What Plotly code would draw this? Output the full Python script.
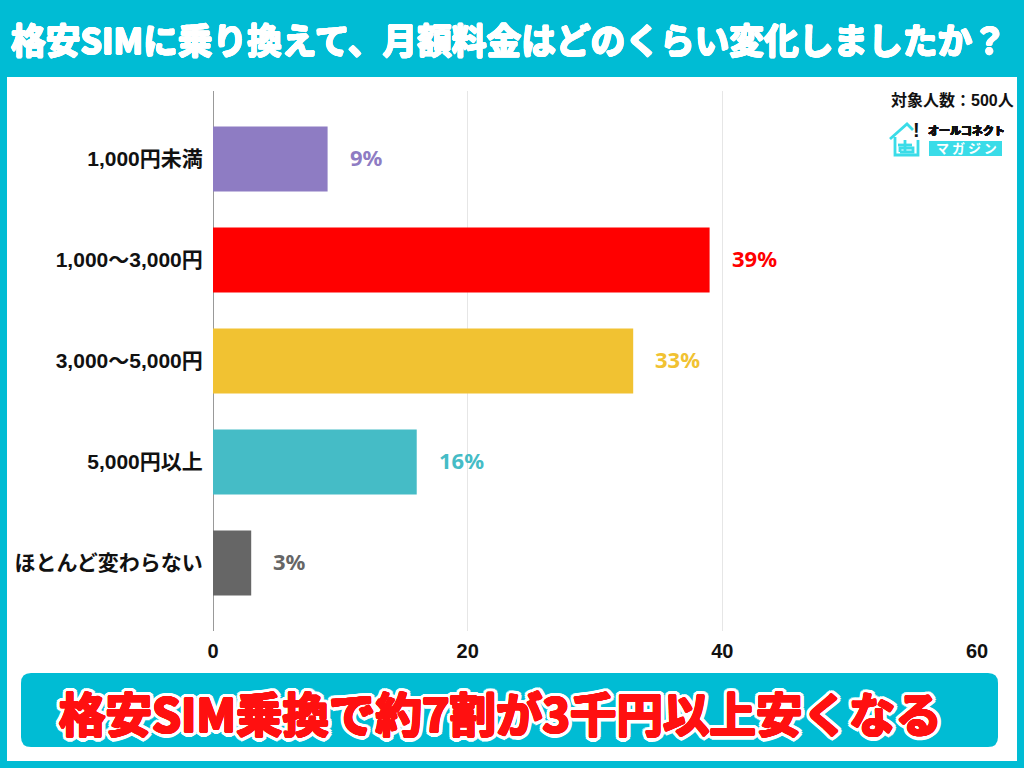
import math
import plotly.graph_objects as go

# Survey results: how the monthly bill changed after moving to a budget SIM
categories = ["1,000円未満", "1,000〜3,000円", "3,000〜5,000円", "5,000円以上", "ほとんど変わらない"]
percentages = [9, 39, 33, 16, 3]
bar_colors = ["#8E7CC3", "#FF0000", "#F1C232", "#45BCC6", "#666666"]
x_ticks = [0, 20, 40, 60]

title_text = "格安SIMに乗り換えて、月額料金はどのくらい変化しましたか？"
banner_text = "格安SIM乗換で約7割が3千円以上安くなる"
sample_text = "対象人数：500人"
brand_top = "オールコネクト"
brand_bottom = "マ ガ ジ ン"

TEAL = "#00BCD4"
LOGO = "#3ADCE8"
JP = "Noto Sans CJK JP"
MIXED = "Liberation Sans, Noto Sans CJK JP"
LEFT, RIGHT, TOP, BOTTOM = 213, 977, 91, 631


def px(x):
    return (x - LEFT) / (RIGHT - LEFT)


def py(y):
    return (BOTTOM - y) / (BOTTOM - TOP)


def outline(radius, color):
    steps = 16
    return ", ".join(
        f"{radius * math.cos(2 * math.pi * i / steps):.2f}px "
        f"{radius * math.sin(2 * math.pi * i / steps):.2f}px 0 {color}"
        for i in range(steps)
    )


def rect(x0, y0, x1, y1, color, layer="below"):
    return dict(type="rect", xref="paper", yref="paper", x0=px(x0), x1=px(x1),
                y0=py(y0), y1=py(y1), fillcolor=color, line_width=0, layer=layer)


def rounded(x0, y0, x1, y1, r, color):
    a, b, c, d = px(x0), px(x1), py(y1), py(y0)
    rx, ry = r / (RIGHT - LEFT), r / (BOTTOM - TOP)
    path = (f"M {a + rx} {c} L {b - rx} {c} Q {b} {c} {b} {c + ry} L {b} {d - ry} "
            f"Q {b} {d} {b - rx} {d} L {a + rx} {d} Q {a} {d} {a} {d - ry} "
            f"L {a} {c + ry} Q {a} {c} {a + rx} {c} Z")
    return dict(type="path", xref="paper", yref="paper", path=path,
                fillcolor=color, line_width=0, layer="below")


def polyline(points, color, width=2.8):
    path = "M " + " L ".join(f"{px(x)} {py(y)}" for x, y in points)
    return dict(type="path", xref="paper", yref="paper", path=path,
                line=dict(color=color, width=width))


def label(x, y, text, size, color, anchor="center", family=JP, **extra):
    return dict(xref="paper", yref="paper", x=px(x), y=py(y), text=text, showarrow=False,
                xanchor=anchor, yanchor="middle",
                font=dict(family=family, size=size, color=color, weight=700, **extra))


fig = go.Figure(go.Bar(
    x=percentages, y=categories, orientation="h",
    marker=dict(color=bar_colors, line_width=0), width=0.645,
    hoverinfo="skip",
))

annotations = [
    dict(x=v, y=c, xref="x", yref="y", text=f"{v}%", showarrow=False, xanchor="left",
         xshift=20, yshift=2, font=dict(family="Noto Sans", size=22, color=col, weight=700))
    for v, c, col in zip(percentages, categories, bar_colors)
]
annotations += [
    label(509, 39, title_text, 34.7, "#FFFFFF", shadow=outline(0.7, "#FFFFFF")),
    label(500, 711, banner_text, 46.5, "#FF1010",
          shadow=outline(1, "#FF1010") + ", " + outline(4.5, "#FFFFFF")),
    label(1016, 100, sample_text, 16, "#111111", anchor="right", family=MIXED),
    label(966, 130, brand_top, 11, "#111111", shadow=outline(0.4, "#111111")),
    label(966, 148, brand_bottom, 13, "#FFFFFF"),
    label(916, 130, "!", 20, "#111111", family="Liberation Sans"),
]

shapes = [
    rect(7, 77, 1017, 761, "#FFFFFF"),
    rounded(21, 673, 998, 747, 10, TEAL),
    rect(929, 141, 1002, 156, LOGO, layer="above"),
    # House outline of the brand mark
    polyline([(890, 139), (907, 124), (913, 130)], LOGO),
    polyline([(895, 137), (895, 155), (918, 155), (918, 140)], LOGO),
    polyline([(898, 145), (912, 145)], LOGO),
    polyline([(905, 140), (905, 152)], LOGO),
    polyline([(900, 152), (900, 148), (913, 148), (913, 152), (900, 152)], LOGO),
]

fig.update_layout(
    width=1024, height=768, autosize=False, showlegend=False,
    margin=dict(l=LEFT, r=1024 - RIGHT, t=TOP, b=768 - BOTTOM, pad=0),
    paper_bgcolor=TEAL, plot_bgcolor="rgba(0,0,0,0)",
    annotations=annotations, shapes=shapes,
    font=dict(family=JP, color="#111111"),
    xaxis=dict(range=[0, 60], tickvals=x_ticks, showgrid=True, gridcolor="#E6E6E6",
               gridwidth=1, zeroline=True, zerolinecolor="#999999", zerolinewidth=1,
               ticks="outside", ticklen=0, ticklabelstandoff=2,
               tickfont=dict(family="Liberation Sans", size=20, color="#111111", weight=700)),
    yaxis=dict(type="category", categoryorder="array", categoryarray=categories,
               range=[4.673, -0.673], showgrid=False, zeroline=False,
               ticks="outside", ticklen=0, ticklabelstandoff=5,
               tickfont=dict(family=MIXED, size=21, color="#111111", weight=700)),
)

fig.write_html("out.html", config=dict(displayModeBar=False))
